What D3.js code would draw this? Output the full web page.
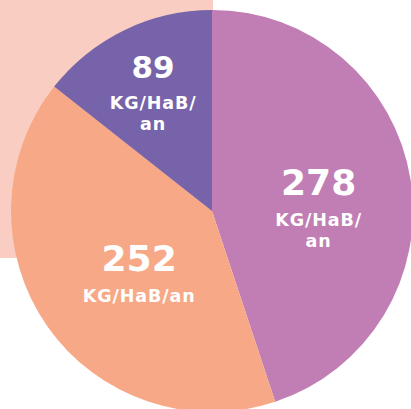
<!DOCTYPE html>
<html>
<head>
<meta charset="utf-8">
<script src="https://cdn.jsdelivr.net/npm/d3@7"></script>
<style>
  body { margin: 0; background: #fff; }
  svg { display: block; }
</style>
</head>
<body>
<div class="canvas"></div>
<script>
// data
const categories = ['a', 'b', 'c']
const values = [278, 252, 89]
const unitLabels = [['KG/HaB/', 'an'], ['KG/HaB/an'], ['KG/HaB/', 'an']]
const colors = ['#C07EB5', '#F7A987', '#7763A9']

const width = 411, height = 409
const svg = d3.select('.canvas').append('svg').attr('width', width).attr('height', height)

// pink block behind the pie
svg.append('rect')
    .attr('x', 0).attr('y', 0)
    .attr('width', 213).attr('height', 258)
    .attr('fill', '#F9CDC1')

const cx = 212, cy = 211, radius = 201

const pie = d3.pie().sort(null).value(d => d)
const arcs = pie(values)
const arc = d3.arc().innerRadius(0).outerRadius(radius)

const graph = svg.append('g').attr('transform', `translate(${cx}, ${cy})`)

graph.selectAll('path')
    .data(arcs)
    .enter()
    .append('path')
        .attr('d', arc)
        .attr('fill', (d, i) => colors[i])

// label placement: radius along the slice middle + vertical nudge
const labelR = [108, 89, 135]
const labelDy = [1, 9, -12]
const numSize = [36, 36, 31]

const labels = graph.selectAll('g.label')
    .data(arcs)
    .enter()
    .append('g')
        .attr('class', 'label')
        .attr('transform', (d, i) => {
            const c = d3.arc().innerRadius(labelR[i]).outerRadius(labelR[i]).centroid(d)
            return `translate(${c[0]}, ${c[1] + labelDy[i]})`
        })

labels.append('text')
    .attr('text-anchor', 'middle')
    .attr('fill', '#fff')
    .attr('font-family', '"DejaVu Sans", sans-serif')
    .attr('font-weight', 'bold')
    .attr('font-size', (d, i) => numSize[i])
    .text(d => d.data)

labels.each(function(d, i) {
    const g = d3.select(this)
    unitLabels[i].forEach((t, j) => {
        g.append('text')
            .attr('text-anchor', 'middle')
            .attr('y', 31 + j * 21)
            .attr('fill', '#fff')
            .attr('font-family', '"DejaVu Sans", sans-serif')
            .attr('font-weight', 'bold')
            .attr('font-size', 17.5)
            .attr('letter-spacing', 0.9)
            .text(t)
    })
})
</script>
</body>
</html>
